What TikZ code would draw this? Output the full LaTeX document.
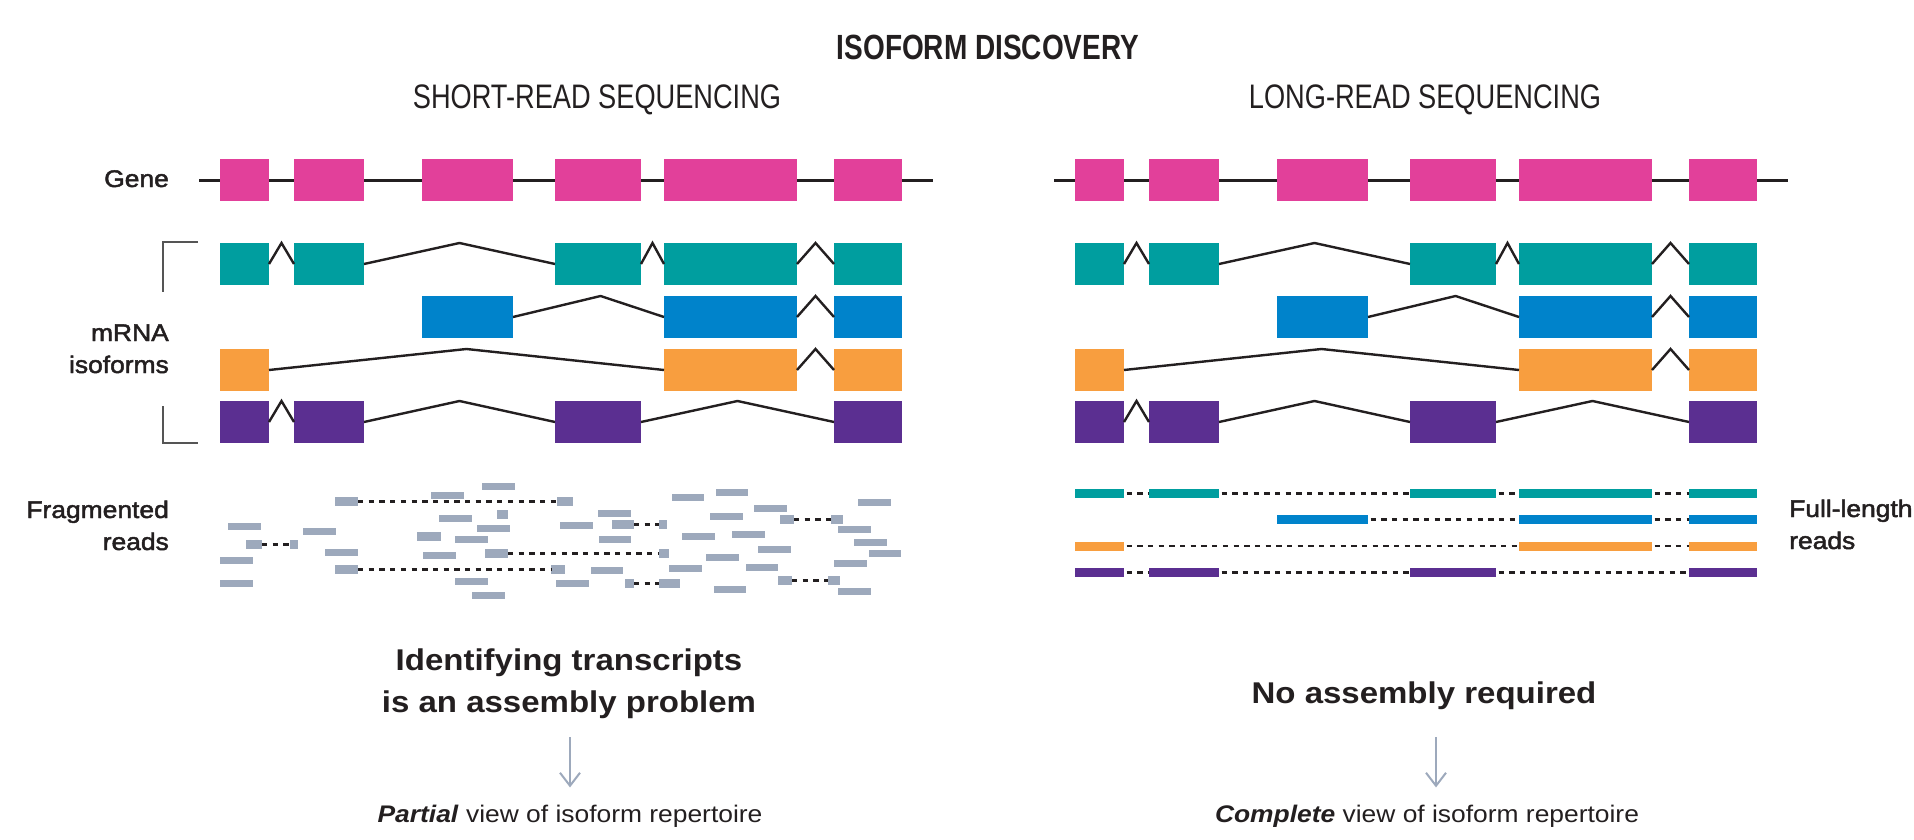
\documentclass[tikz,border=0pt]{standalone}
\usepackage{fontspec}
\setmainfont{Liberation Sans}
\newfontfamily\condfont[FakeStretch=0.8]{Liberation Sans}
\newfontfamily\widefont[FakeStretch=1.1]{Liberation Sans}
\newfontfamily\labelfont[FakeStretch=1.1,FakeBold=2]{Liberation Sans}
\usetikzlibrary{arrows.meta,calc,positioning}

\definecolor{genepink}{HTML}{E2409A}
\definecolor{isoteal}{HTML}{009E9F}
\definecolor{isoblue}{HTML}{0083CB}
\definecolor{isoorange}{HTML}{F89E3F}
\definecolor{isopurple}{HTML}{5B2F91}
\definecolor{readgray}{HTML}{9DA9BC}
\definecolor{inkdark}{HTML}{231F20}
\definecolor{bracketgray}{HTML}{555555}

% exon starts and widths (px) in the left panel
\def\exonstart{{220,294,422,555,664,834}}
\def\exonwidth{{49,70,91,86,133,68}}

\tikzset{
  exon/.style={rectangle, draw=none, inner sep=0pt, outer sep=0pt, anchor=west, minimum height=42pt},
  segment/.style={exon, minimum height=9pt},
  frag/.style={rectangle, fill=readgray, inner sep=0pt, outer sep=0pt, anchor=west, minimum height=9pt},
  intron/.style={inkdark, line width=2.4pt},
  gap/.style={inkdark, line width=2.4pt, dash pattern=on 5.3pt off 5.4pt, dash phase=8.2pt},
  label/.style={font=\labelfont\fontsize{24}{32}\selectfont, align=right, anchor=base east, inner sep=0pt},
  heading/.style={font=\condfont\fontsize{34}{40}\selectfont, anchor=base, inner sep=0pt},
  verdict/.style={font=\widefont\bfseries\fontsize{30}{42}\selectfont, align=center, anchor=base, inner sep=0pt},
  view/.style={font=\widefont\fontsize{24}{28}\selectfont, anchor=base, inner sep=0pt},
  viewarrow/.style={readgray, line width=2pt, -{Straight Barb[length=13pt,width=20pt]}},
}

\begin{document}
\begin{tikzpicture}[x=1pt, y=-1pt, every node/.append style={text=inkdark}]
\fill[white] (0,0) rectangle (1914,840);
\useasboundingbox (0,0) rectangle (1914,840);

\node[font=\condfont\bfseries\fontsize{35}{40}\selectfont, anchor=base, inner sep=0pt] (title) at (988,60) {ISOFORM DISCOVERY};
\node[heading] (shorthead) at (597,109) {SHORT-READ SEQUENCING};
\node[heading] (longhead) at (1425,109) {LONG-READ SEQUENCING};

% gene and isoforms, both panels
\foreach \p/\shift in {L/0,R/855} {
  \coordinate (\p-gs) at ({199+\shift},180);
  \coordinate (\p-ge) at ({933+\shift},180);
  \draw[inkdark, line width=3pt] (\p-gs) -- (\p-ge);
  \foreach \k in {1,...,6} {
    \pgfmathsetmacro\xa{\exonstart[\k-1]+\shift}
    \pgfmathsetmacro\w{\exonwidth[\k-1]}
    \node[exon, fill=genepink, minimum width=\w pt] (g\p\k) at (\xa,180) {};
  }
  \foreach \r/\col/\yi/\ex/\pairs in {t/isoteal/264/{1,2,4,5,6}/{1/2/.5,2/4/.5,4/5/.5,5/6/.5},
      b/isoblue/317/{3,5,6}/{3/5/.58,5/6/.5},
      o/isoorange/370/{1,5,6}/{1/5/.5,5/6/.5},
      u/isopurple/422/{1,2,4,6}/{1/2/.5,2/4/.5,4/6/.5}} {
    \foreach \k in \ex {
      \pgfmathsetmacro\xa{\exonstart[\k-1]+\shift}
      \pgfmathsetmacro\w{\exonwidth[\k-1]}
      \node[exon, fill=\col, minimum width=\w pt] (\r\p\k) at (\xa,\yi) {};
    }
    \foreach \a/\b/\f in \pairs
      \draw[intron] (\r\p\a.east) -- ($(\r\p\a.north east)!\f!(\r\p\b.north west)$) -- (\r\p\b.west);
  }
}

% bracket
\draw[bracketgray, line width=1.5pt] (198,242) -- (163,242) -- (163,292);
\draw[bracketgray, line width=1.5pt] (163,406) -- (163,443) -- (198,443);

\node[label] (genelabel) at (169,187) {Gene};
\node[label] (mrnalabel) at (169,373) {mRNA\\isoforms};
\node[label] (fraglabel) at (169,550) {Fragmented\\reads};
\node[label, align=left, anchor=base west] (fulllabel) at (1789,549) {Full-length\\reads};

% fragmented reads
\foreach \xa/\xb/\ya/\h in {482/515/483/7, 431/464/492/7, 672/704/494/7, 716/748/489/7, 858/891/499/7,
    497/508/510/9, 439/472/515/7, 598/631/510/7, 754/787/505/7, 710/743/513/7, 228/261/523/7,
    303/336/528/7, 477/510/525/7, 560/593/522/7, 838/871/526/7, 417/441/532/9, 455/488/536/7,
    599/631/536/7, 682/715/533/7, 732/765/531/7, 854/887/539/7, 325/358/549/7, 423/456/552/7,
    758/791/546/7, 869/901/550/7, 220/253/557/7, 706/739/554/7, 591/623/567/7, 669/702/565/7,
    746/778/564/7, 834/867/560/7, 455/488/578/7, 556/589/580/7, 220/253/580/7, 714/746/586/7,
    838/871/588/7, 472/505/592/7}
  \fill[readgray] (\xa,\ya) rectangle (\xb,\ya+\h);
\foreach \i/\xa/\xb/\xc/\xd/\ya in {1/335/358/557/573/497, 2/780/794/831/843/515, 3/612/634/659/667/520,
    4/246/262/290/298/540, 5/485/508/659/669/549, 6/335/358/551/565/565, 7/625/634/659/680/579,
    8/778/792/828/840/576} {
  \pgfmathsetmacro\wa{\xb-\xa}
  \pgfmathsetmacro\wb{\xd-\xc}
  \node[frag, minimum width=\wa pt] (pa\i) at (\xa,\ya+4.5) {};
  \node[frag, minimum width=\wb pt] (pb\i) at (\xc,\ya+4.5) {};
  \draw[gap, dash phase=0pt] (pa\i.east) -- (pb\i.west);
}

% full-length reads
\foreach \r/\col/\yr/\ex/\pairs in {t/isoteal/493.5/{1,2,4,5,6}/{1/2,2/4,4/5,5/6},
    b/isoblue/519.5/{3,5,6}/{3/5,5/6},
    o/isoorange/546/{1,5,6}/{1/5,5/6},
    u/isopurple/572.5/{1,2,4,6}/{1/2,2/4,4/6}} {
  \foreach \k in \ex {
    \pgfmathsetmacro\xa{\exonstart[\k-1]+855}
    \pgfmathsetmacro\w{\exonwidth[\k-1]}
    \node[segment, fill=\col, minimum width=\w pt] (fl\r\k) at (\xa,\yr) {};
  }
  \foreach \a/\b in \pairs
    \draw[gap] (fl\r\a.east) -- (fl\r\b.west);
}

\node[verdict] (assembly) at (569,712) {Identifying transcripts\\is an assembly problem};
\node[verdict] (noassembly) at (1424,703) {No assembly required};
\node[view] (partial) at (570,822) {\textbf{\textit{Partial}} view of isoform repertoire};
\node[view] (complete) at (1427,822) {\textbf{\textit{Complete}} view of isoform repertoire};
\draw[viewarrow] ($(assembly.south)+(1,19)$) -- ($(partial.north)+(0,-17)$);
\draw[viewarrow] ($(noassembly.south)+(12,28)$) -- ($(complete.north)+(9,-17)$);
\end{tikzpicture}
\end{document}
